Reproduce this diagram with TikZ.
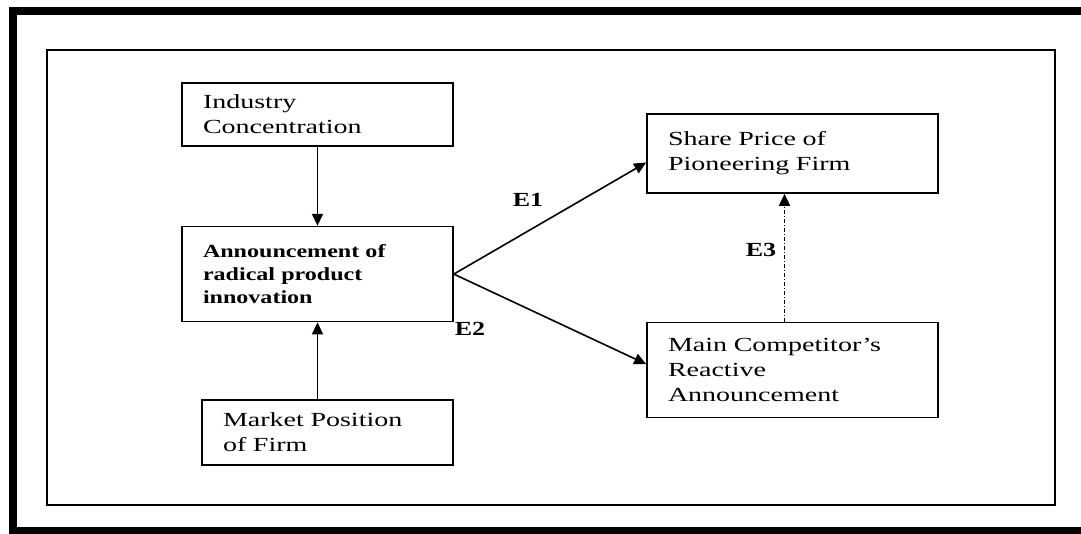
\documentclass[tikz,border=0pt]{standalone}
\usepackage{fontspec}
\setmainfont{Liberation Serif}[FakeStretch=1.4]
\newfontfamily\boldstretch{Liberation Serif}[FakeStretch=1.3]
\usepackage{tikz}
\usetikzlibrary{arrows.meta,positioning,calc}
\newcommand{\eLabel}[1]{{\boldstretch\bfseries\fontsize{20}{24}\selectfont #1}}

\begin{document}
\begin{tikzpicture}[
    x=1pt, y=-1pt,
    box/.style={rectangle, draw, line width=1.6pt, align=left, inner xsep=21pt,
                font=\fontsize{20}{25}\selectfont},
    arrow/.style={-{Triangle[length=12pt,width=11pt]}, line width=1.6pt}
]
    \useasboundingbox (0,0) rectangle (1081,533);
    % frames
    \draw[line width=8pt] (13,11) rectangle (1095,531);
    \draw[line width=1.6pt] (47,50) rectangle (1055,505);

    \node[box, text width=229pt, minimum height=63pt] (ind) at (317.5,114.5) {Industry\\Concentration};
    \node[box, text width=229pt, minimum height=95pt, below=79pt of ind,
          font=\boldstretch\bfseries\fontsize{18.5}{23}\selectfont] (ann) {Announcement of\\radical product\\innovation};
    \node[box, text width=209pt, minimum height=65pt] (mkt) at (327.5,432.5) {Market Position\\of Firm};
    \node[box, text width=249pt, minimum height=79pt] (shr) at (792.5,153.5) {Share Price of\\Pioneering Firm};
    \node[box, text width=249pt, minimum height=95pt, below=128pt of shr] (cmp) {Main Competitor’s\\Reactive\\Announcement};

    \draw[arrow] (ind) -- (ann);
    \draw[arrow] (ann.south |- mkt.north) -- (ann.south);
    \draw[arrow] (ann.east) -- ([yshift=-9pt]shr.west);
    \draw[arrow] (ann.east) -- ([yshift=6pt]cmp.west);
    \draw[arrow, dash pattern=on 4pt off 2pt on 1pt off 2pt] ([xshift=-8pt]cmp.north) -- ([xshift=-8pt]shr.south);

    \node (e1) at (528,200) {\eLabel{E1}};
    \node (e2) at (470,329) {\eLabel{E2}};
    \node (e3) at (761,250) {\eLabel{E3}};
\end{tikzpicture}
\end{document}
